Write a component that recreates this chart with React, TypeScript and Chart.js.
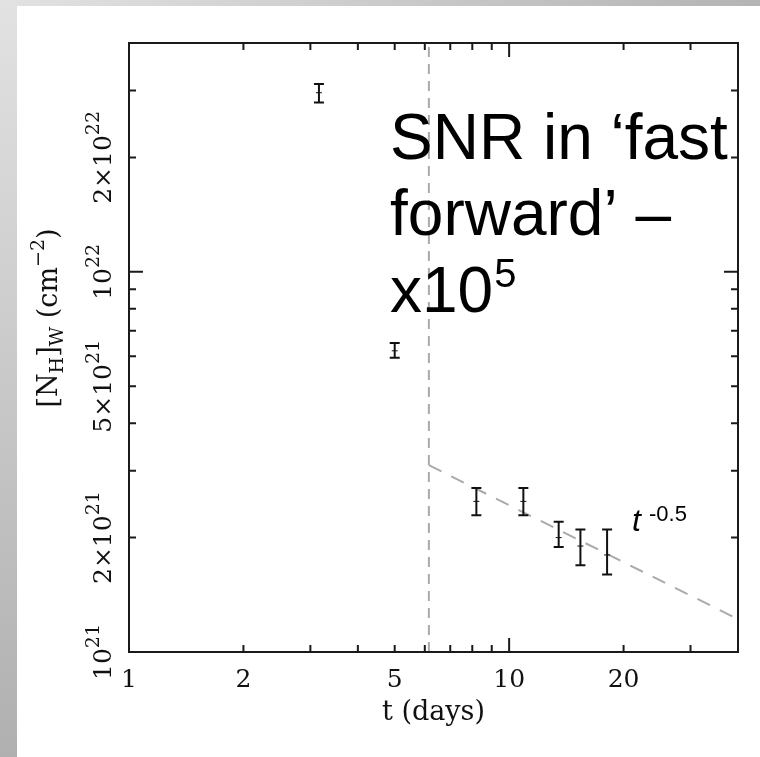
import React, { useEffect, useRef } from 'react';
import { Chart, registerables } from 'chart.js';

Chart.register(...registerables);

// ---- data ----
const tDays = [3.16, 5.0, 8.2, 10.9, 13.5, 15.4, 18.1];
const nhValues = [2.96e22, 6.2e21, 2.49e21, 2.49e21, 2.0e21, 1.9e21, 1.8e21];
const nhLow = [2.79e22, 5.94e21, 2.29e21, 2.29e21, 1.89e21, 1.69e21, 1.6e21];
const nhHigh = [3.12e22, 6.5e21, 2.7e21, 2.7e21, 2.2e21, 2.1e21, 2.1e21];

const breakT = [6.15, 6.15];
const breakNH = [1e21, 4e22];
const lawT = [6.15, 40];
const lawNH = [3.1e21, 1.22e21];

const xMin = 1;
const xMax = 40;
const yMin = 1e21;
const yMax = 4e22;

const xTickValues = [1, 2, 3, 4, 5, 6, 7, 8, 9, 10, 20, 30];
const xMajorTicks = [1, 10];
const xLabelValues = [1, 2, 5, 10, 20];
const xLabels = ['1', '2', '5', '10', '20'];

const yTickValues = [1e21, 2e21, 3e21, 4e21, 5e21, 6e21, 7e21, 8e21, 9e21, 1e22, 2e22, 3e22];
const yMajorTicks = [1e21, 1e22];
const yLabelValues = [1e21, 2e21, 5e21, 1e22, 2e22];
const yLabelMantissa = ['', '2×', '5×', '', '2×'];
const yLabelExponent = ['21', '21', '21', '22', '22'];

const SERIF = '"DejaVu Serif", serif';
const SANS = '"Liberation Sans", Arial, sans-serif';

type Piece = { t: string; size: number; dy: number };

function drawPieces(ctx: CanvasRenderingContext2D, pieces: Piece[], startX: number, baseY: number) {
  let x = startX;
  for (const p of pieces) {
    ctx.font = `${p.size}px ${SERIF}`;
    ctx.fillText(p.t, x, baseY + p.dy);
    x += ctx.measureText(p.t).width;
  }
}

function piecesWidth(ctx: CanvasRenderingContext2D, pieces: Piece[]) {
  let w = 0;
  for (const p of pieces) {
    ctx.font = `${p.size}px ${SERIF}`;
    w += ctx.measureText(p.t).width;
  }
  return w;
}

const decorPlugin = {
  id: 'decor',
  beforeDraw(chart: any) {
    const ctx: CanvasRenderingContext2D = chart.ctx;
    const W = chart.width;
    const H = chart.height;
    ctx.save();
    ctx.fillStyle = '#ffffff';
    ctx.fillRect(0, 0, W, H);
    const g1 = ctx.createLinearGradient(0, 0, W, 0);
    g1.addColorStop(0, '#e2e2e2');
    g1.addColorStop(1, '#b4b4b4');
    ctx.fillStyle = g1;
    ctx.fillRect(0, 0, W, 6);
    const g2 = ctx.createLinearGradient(0, 0, 0, H);
    g2.addColorStop(0, '#e2e2e2');
    g2.addColorStop(1, '#b0b0b0');
    ctx.fillStyle = g2;
    ctx.fillRect(0, 0, 17, H);
    ctx.restore();
  },
  afterDatasetsDraw(chart: any) {
    const ctx: CanvasRenderingContext2D = chart.ctx;
    const xs = chart.scales.x;
    const ys = chart.scales.y;
    const area = chart.chartArea;
    ctx.save();

    // error bars
    ctx.strokeStyle = '#111111';
    for (let i = 0; i < tDays.length; i++) {
      const px = xs.getPixelForValue(tDays[i]);
      const pTop = ys.getPixelForValue(nhHigh[i]);
      const pBot = ys.getPixelForValue(nhLow[i]);
      const pMid = ys.getPixelForValue(nhValues[i]);
      ctx.lineWidth = 2;
      ctx.beginPath();
      ctx.moveTo(px, pTop);
      ctx.lineTo(px, pBot);
      ctx.moveTo(px - 5, pTop);
      ctx.lineTo(px + 5, pTop);
      ctx.moveTo(px - 5, pBot);
      ctx.lineTo(px + 5, pBot);
      ctx.stroke();
      ctx.lineWidth = 1;
      ctx.beginPath();
      ctx.moveTo(px - 3, pMid);
      ctx.lineTo(px + 3, pMid);
      ctx.stroke();
    }

    // frame
    ctx.strokeStyle = '#1a1a1a';
    ctx.lineWidth = 2;
    ctx.strokeRect(area.left, area.top, area.right - area.left, area.bottom - area.top);

    // ticks (inward, all four sides)
    ctx.lineWidth = 2;
    ctx.beginPath();
    for (const v of xTickValues) {
      const px = xs.getPixelForValue(v);
      const len = xMajorTicks.includes(v) ? 14 : 7;
      ctx.moveTo(px, area.bottom);
      ctx.lineTo(px, area.bottom - len);
      ctx.moveTo(px, area.top);
      ctx.lineTo(px, area.top + len);
    }
    for (const v of yTickValues) {
      const py = ys.getPixelForValue(v);
      const len = yMajorTicks.includes(v) ? 14 : 7;
      ctx.moveTo(area.left, py);
      ctx.lineTo(area.left + len, py);
      ctx.moveTo(area.right, py);
      ctx.lineTo(area.right - len, py);
    }
    ctx.stroke();

    // x tick labels
    ctx.fillStyle = '#111111';
    ctx.textAlign = 'center';
    ctx.textBaseline = 'alphabetic';
    ctx.font = `25px ${SERIF}`;
    xLabelValues.forEach((v, i) => {
      ctx.fillText(xLabels[i], xs.getPixelForValue(v), 687);
    });

    // x title
    ctx.font = `27px ${SERIF}`;
    ctx.fillText('t (days)', (area.left + area.right) / 2, 720);

    // y tick labels (rotated)
    ctx.textAlign = 'left';
    yLabelValues.forEach((v, i) => {
      const py = ys.getPixelForValue(v);
      const pieces: Piece[] = [
        { t: yLabelMantissa[i] + '10', size: 25, dy: 0 },
        { t: yLabelExponent[i], size: 19, dy: -12 },
      ];
      const w = piecesWidth(ctx, pieces);
      ctx.save();
      ctx.translate(111, py);
      ctx.rotate(-Math.PI / 2);
      drawPieces(ctx, pieces, -w / 2, 0);
      ctx.restore();
    });

    // y title
    {
      const pieces: Piece[] = [
        { t: '[N', size: 27, dy: 0 },
        { t: 'H', size: 19, dy: 6 },
        { t: ']', size: 27, dy: 0 },
        { t: 'W', size: 19, dy: 6 },
        { t: ' (cm', size: 27, dy: 0 },
        { t: '−2', size: 19, dy: -13 },
        { t: ')', size: 27, dy: 0 },
      ];
      const w = piecesWidth(ctx, pieces);
      ctx.save();
      ctx.translate(57, 318);
      ctx.rotate(-Math.PI / 2);
      drawPieces(ctx, pieces, -w / 2, 0);
      ctx.restore();
    }

    // annotation text
    ctx.fillStyle = '#000000';
    ctx.textAlign = 'left';
    ctx.font = `64px ${SANS}`;
    ctx.fillText('SNR in \u2018fast', 390, 159);
    ctx.fillText('forward\u2019 \u2013', 390, 235);
    ctx.fillText('x10', 390, 312);
    const wx = ctx.measureText('x10').width;
    ctx.font = `40px ${SANS}`;
    ctx.fillText('5', 390 + wx + 1, 287);

    ctx.font = `italic 32px ${SANS}`;
    ctx.fillText('t', 632, 531);
    ctx.font = `22px ${SANS}`;
    ctx.fillText('-0.5', 649, 521);

    ctx.restore();
  },
};

export default function App() {
  const canvasRef = useRef<HTMLCanvasElement | null>(null);

  useEffect(() => {
    document.body.style.margin = '0';
    const canvas = canvasRef.current;
    if (!canvas) return;
    const chart = new Chart(canvas, {
      type: 'scatter',
      data: {
        datasets: [
          {
            label: 'NH',
            data: tDays.map((t, i) => ({ x: t, y: nhValues[i] })),
            pointRadius: 0,
            showLine: false,
          },
          {
            label: 'break',
            type: 'line',
            data: breakT.map((t, i) => ({ x: t, y: breakNH[i] })),
            borderColor: '#aaaaaa',
            borderWidth: 2,
            borderDash: [10, 7],
            pointRadius: 0,
            fill: false,
          },
          {
            label: 'law',
            type: 'line',
            data: lawT.map((t, i) => ({ x: t, y: lawNH[i] })),
            borderColor: '#aaaaaa',
            borderWidth: 2,
            borderDash: [14, 11],
            pointRadius: 0,
            fill: false,
          },
        ],
      } as any,
      options: {
        responsive: false,
        animation: false,
        devicePixelRatio: 1,
        layout: { padding: { left: 129, top: 43, right: 22, bottom: 105 } },
        plugins: { legend: { display: false }, tooltip: { enabled: false } },
        scales: {
          x: { type: 'logarithmic', min: xMin, max: xMax, display: false },
          y: { type: 'logarithmic', min: yMin, max: yMax, display: false },
        },
      } as any,
      plugins: [decorPlugin],
    });
    return () => chart.destroy();
  }, []);

  return (
    <div style={{ width: 760, height: 757 }}>
      <canvas ref={canvasRef} width={760} height={757} style={{ display: 'block' }} />
    </div>
  );
}
